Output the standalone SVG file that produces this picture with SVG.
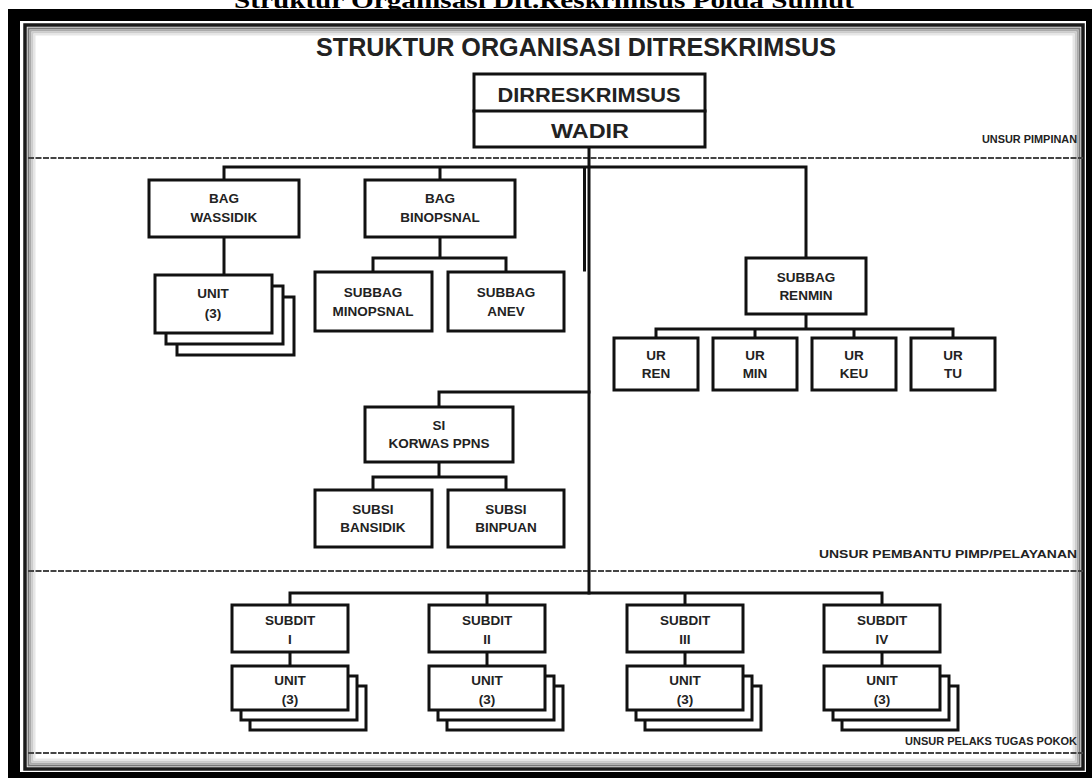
<svg xmlns="http://www.w3.org/2000/svg" width="1092" height="778" viewBox="0 0 1092 778">
<style>
.box{fill:#fff;stroke:#111;stroke-width:3}
.ln{stroke:#111;stroke-width:3;fill:none;stroke-linecap:square}
.lb{font-family:"Liberation Sans",Arial,sans-serif;font-weight:bold;font-size:13.5px;fill:#222;text-anchor:middle}
.big{font-size:21px}
.sec{font-family:"Liberation Sans",Arial,sans-serif;font-weight:bold;font-size:11.5px;fill:#222;text-anchor:end}
.dash{stroke:#444;stroke-width:2;stroke-dasharray:6 1.5;fill:none}
</style>
<rect x="0" y="0" width="1092" height="778" fill="#fff"/>
<text x="544" y="8" text-anchor="middle" font-family="Liberation Serif,Times New Roman,serif" font-weight="bold" font-size="24" textLength="620" lengthAdjust="spacingAndGlyphs" fill="#000">Struktur Organisasi Dit.Reskrimsus Polda Sumut</text>
<g id="frame">
<rect x="14" y="15" width="1078" height="763" fill="none" stroke="#000" stroke-width="12"/>
<rect x="25" y="25" width="1058" height="744" fill="none" stroke="#1a1a1a" stroke-width="3.5"/>
<rect x="28.5" y="28.5" width="1051" height="737" fill="none" stroke="#777" stroke-width="2"/>
<rect x="30.5" y="30.5" width="1047" height="733" fill="none" stroke="#aaa" stroke-width="2"/>
<rect x="32.5" y="32.5" width="1043" height="729" fill="none" stroke="#ccc" stroke-width="2"/>
<rect x="34.5" y="34.5" width="1039" height="725" fill="none" stroke="#e6e6e6" stroke-width="2"/>
</g>
<text x="576" y="56" text-anchor="middle" font-family="Liberation Sans,Arial,sans-serif" font-weight="bold" font-size="25" textLength="520" lengthAdjust="spacingAndGlyphs" fill="#222">STRUKTUR ORGANISASI DITRESKRIMSUS</text>
<g id="sections">
<line class="dash" x1="28" y1="158" x2="1083" y2="158"/>
<line class="dash" x1="28" y1="571" x2="1083" y2="571"/>
<line class="dash" x1="28" y1="753" x2="1083" y2="753"/>
<text class="sec" x="1077" y="143" textLength="95" lengthAdjust="spacingAndGlyphs">UNSUR PIMPINAN</text>
<text class="sec" x="1077" y="558" textLength="258" lengthAdjust="spacingAndGlyphs">UNSUR PEMBANTU PIMP/PELAYANAN</text>
<text class="sec" x="1077" y="745" textLength="172" lengthAdjust="spacingAndGlyphs">UNSUR PELAKS TUGAS POKOK</text>
</g>
<g id="connectors">
<path class="ln" d="M589 147V593"/>
<path class="ln" d="M584.5 168V270" stroke-width="2"/>
<path class="ln" d="M224 167H806M224 167V180M440 167V180M806 167V258"/>
<path class="ln" d="M224 237V275"/>
<path class="ln" d="M440 237V258M373 258H506M373 258V272M506 258V272"/>
<path class="ln" d="M806 314V329M656 329H953M656 329V338M755 329V338M854 329V338M953 329V338"/>
<path class="ln" d="M439 392H589M439 392V407"/>
<path class="ln" d="M439 462V477M373 477H506M373 477V490M506 477V490"/>
<path class="ln" d="M290 593H882M290 593V605M487 593V605M685 593V605M882 593V605"/>
<path class="ln" d="M290 652V666M487 652V666M685 652V666M882 652V666"/>
</g>
<g id="dir">
<rect class="box" x="474" y="74" width="231" height="73"/>
<line class="ln" x1="474" y1="111" x2="705" y2="111"/>
<text class="lb big" x="589" y="102" textLength="183" lengthAdjust="spacingAndGlyphs">DIRRESKRIMSUS</text>
<text class="lb big" x="590" y="138" textLength="78" lengthAdjust="spacingAndGlyphs">WADIR</text>
</g>
<g id="bag-wassidik">
<rect class="box" x="149" y="180" width="150" height="57"/>
<text class="lb" x="224" y="203">BAG</text><text class="lb" x="224" y="222">WASSIDIK</text>
</g>
<g id="unit-wassidik">
<rect class="box" x="177" y="297" width="117" height="58"/>
<rect class="box" x="166" y="286" width="117" height="58"/>
<rect class="box" x="155" y="275" width="117" height="58"/>
<text class="lb" x="213" y="298">UNIT</text><text class="lb" x="213" y="318">(3)</text>
</g>
<g id="bag-binopsnal">
<rect class="box" x="365" y="180" width="150" height="57"/>
<text class="lb" x="440" y="203">BAG</text><text class="lb" x="440" y="222">BINOPSNAL</text>
</g>
<g id="subbag-minopsnal">
<rect class="box" x="315" y="272" width="117" height="59"/>
<text class="lb" x="373" y="297">SUBBAG</text><text class="lb" x="373" y="316">MINOPSNAL</text>
</g>
<g id="subbag-anev">
<rect class="box" x="448" y="272" width="116" height="59"/>
<text class="lb" x="506" y="297">SUBBAG</text><text class="lb" x="506" y="316">ANEV</text>
</g>
<g id="subbag-renmin">
<rect class="box" x="746" y="258" width="120" height="56"/>
<text class="lb" x="806" y="282">SUBBAG</text><text class="lb" x="806" y="300">RENMIN</text>
</g>
<g id="ur-ren"><rect class="box" x="614" y="338" width="84" height="52"/><text class="lb" x="656" y="360">UR</text><text class="lb" x="656" y="378">REN</text></g>
<g id="ur-min"><rect class="box" x="713" y="338" width="84" height="52"/><text class="lb" x="755" y="360">UR</text><text class="lb" x="755" y="378">MIN</text></g>
<g id="ur-keu"><rect class="box" x="812" y="338" width="84" height="52"/><text class="lb" x="854" y="360">UR</text><text class="lb" x="854" y="378">KEU</text></g>
<g id="ur-tu"><rect class="box" x="911" y="338" width="84" height="52"/><text class="lb" x="953" y="360">UR</text><text class="lb" x="953" y="378">TU</text></g>
<g id="si-korwas">
<rect class="box" x="365" y="407" width="148" height="55"/>
<text class="lb" x="439" y="430">SI</text><text class="lb" x="439" y="448">KORWAS PPNS</text>
</g>
<g id="subsi-bansidik">
<rect class="box" x="315" y="490" width="117" height="57"/>
<text class="lb" x="373" y="514">SUBSI</text><text class="lb" x="373" y="532">BANSIDIK</text>
</g>
<g id="subsi-binpuan">
<rect class="box" x="448" y="490" width="116" height="57"/>
<text class="lb" x="506" y="514">SUBSI</text><text class="lb" x="506" y="532">BINPUAN</text>
</g>
<g id="subdit-1">
<rect class="box" x="232" y="605" width="116" height="47"/>
<text class="lb" x="290" y="625">SUBDIT</text><text class="lb" x="290" y="644">I</text>
</g>
<g id="unit-1">
<rect class="box" x="250" y="686" width="116" height="44"/>
<rect class="box" x="241" y="676" width="116" height="44"/>
<rect class="box" x="232" y="666" width="116" height="44"/>
<text class="lb" x="290" y="685">UNIT</text><text class="lb" x="290" y="704">(3)</text>
</g>
<g id="subdit-2">
<rect class="box" x="429" y="605" width="116" height="47"/>
<text class="lb" x="487" y="625">SUBDIT</text><text class="lb" x="487" y="644">II</text>
</g>
<g id="unit-2">
<rect class="box" x="447" y="686" width="116" height="44"/>
<rect class="box" x="438" y="676" width="116" height="44"/>
<rect class="box" x="429" y="666" width="116" height="44"/>
<text class="lb" x="487" y="685">UNIT</text><text class="lb" x="487" y="704">(3)</text>
</g>
<g id="subdit-3">
<rect class="box" x="627" y="605" width="116" height="47"/>
<text class="lb" x="685" y="625">SUBDIT</text><text class="lb" x="685" y="644">III</text>
</g>
<g id="unit-3">
<rect class="box" x="645" y="686" width="116" height="44"/>
<rect class="box" x="636" y="676" width="116" height="44"/>
<rect class="box" x="627" y="666" width="116" height="44"/>
<text class="lb" x="685" y="685">UNIT</text><text class="lb" x="685" y="704">(3)</text>
</g>
<g id="subdit-4">
<rect class="box" x="824" y="605" width="116" height="47"/>
<text class="lb" x="882" y="625">SUBDIT</text><text class="lb" x="882" y="644">IV</text>
</g>
<g id="unit-4">
<rect class="box" x="842" y="686" width="116" height="44"/>
<rect class="box" x="833" y="676" width="116" height="44"/>
<rect class="box" x="824" y="666" width="116" height="44"/>
<text class="lb" x="882" y="685">UNIT</text><text class="lb" x="882" y="704">(3)</text>
</g>
</svg>
